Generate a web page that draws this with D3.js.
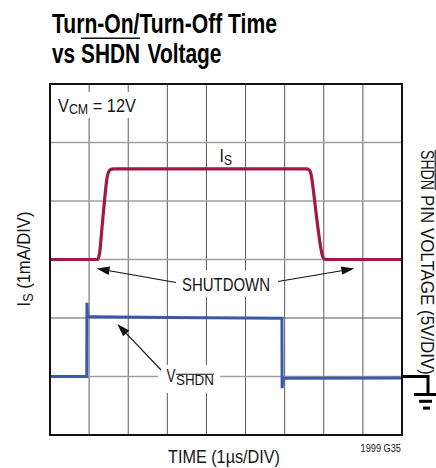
<!DOCTYPE html>
<html>
<head>
<meta charset="utf-8">
<script src="https://cdn.jsdelivr.net/npm/d3@7/dist/d3.min.js"></script>
<style>
body { margin: 0; background: #fff; }
text { font-family: "Liberation Sans Narrow", "Arial Narrow", "Liberation Sans", sans-serif; fill: #161616; }
</style>
</head>
<body>
<svg id="chart" width="436" height="468"></svg>
<script>

// time axis, 1us/div, 9 divisions
var timeDivs = [0, 1, 2, 3, 4, 5, 6, 7, 8, 9];
// Is axis, 1mA/div, 0 on the third line from the top
var isDivs = [-3, -2, -1, 0, 1, 2, 3];

// supply current trace (us, mA)
var isTime  = [0, 1.22, 1.27, 1.33, 1.40, 1.46, 1.50, 1.55, 1.62, 1.75, 6.55, 6.63, 6.68, 6.74, 6.82, 6.90, 6.96, 7.01, 7.08, 9];
var isValue = [0, 0, 0.12, 0.55, 1.05, 1.40, 1.50, 1.54, 1.55, 1.55, 1.55, 1.53, 1.44, 1.15, 0.70, 0.30, 0.08, 0.01, 0, 0];

// SHDN pin voltage trace (us, V), 5V/div
var vTime  = [0, 0.94, 0.945, 0.96, 1.0, 1.1, 3.0, 5.93, 5.935, 5.95, 6.0, 6.2, 9];
var vValue = [0, 0, 6.3, 5.2, 5.1, 5.1, 5.05, 4.97, -1.0, -0.3, -0.15, -0.15, -0.12];

var svg = d3.select("#chart");

var plot = { left: 50, right: 402, top: 84, bottom: 435 };

var x = d3.scaleLinear().domain([0, 9]).range([plot.left, plot.right]);
var yIs = d3.scaleLinear().domain([-3, 3]).range([plot.bottom, plot.top]);
var yV = d3.scaleLinear().domain([-5, 25]).range([plot.bottom, plot.top]);

// grid
svg.append("g")
    .selectAll("line")
    .data(timeDivs.slice(1, -1))
    .enter()
    .append("line")
        .attr("x1", function(d) { return x(d); })
        .attr("x2", function(d) { return x(d); })
        .attr("y1", plot.top)
        .attr("y2", plot.bottom)
        .style("stroke", "#5a5a5a")
        .style("stroke-width", 1);

svg.append("g")
    .selectAll("line")
    .data(isDivs.slice(1, -1))
    .enter()
    .append("line")
        .attr("x1", plot.left)
        .attr("x2", plot.right)
        .attr("y1", function(d) { return yIs(d); })
        .attr("y2", function(d) { return yIs(d); })
        .style("stroke", function(d) { return d == -1 ? "#5a5a5a" : "#a0a0a0"; })
        .style("stroke-width", function(d) { return d == -1 ? 1 : 1.6; });

// white boxes behind the labels
var boxes = [
    [56, 92, 84, 26],
    [213, 145, 25, 20],
    [175, 270, 102, 27],
    [158, 365, 62, 28]
];
svg.append("g")
    .selectAll("rect")
    .data(boxes)
    .enter()
    .append("rect")
        .attr("x", function(d) { return d[0]; })
        .attr("y", function(d) { return d[1]; })
        .attr("width", function(d) { return d[2]; })
        .attr("height", function(d) { return d[3]; })
        .style("fill", "#fff");

// traces
var isLine = d3.line()
    .x(function(d, i) { return x(isTime[i]); })
    .y(function(d) { return yIs(d); })
    .curve(d3.curveMonotoneX);

svg.append("path")
    .attr("d", isLine(isValue))
    .style("fill", "none")
    .style("stroke", "#a3183f")
    .style("stroke-width", 3.2)
    .style("stroke-linejoin", "round");

var vLine = d3.line()
    .x(function(d, i) { return x(vTime[i]); })
    .y(function(d) { return yV(d); });

svg.append("path")
    .attr("d", vLine(vValue))
    .style("fill", "none")
    .style("stroke", "#3d58a9")
    .style("stroke-width", 3);

// ground reference for the SHDN trace
var g0 = yV(0);
var gx = 428;
svg.append("path")
    .attr("d", "M" + plot.right + "," + g0 + "H" + gx + "V" + (g0 + 17))
    .style("fill", "none")
    .style("stroke", "#000")
    .style("stroke-width", 3);
svg.append("g")
    .selectAll("line")
    .data([[414, 440], [419, 432], [423, 430]])
    .enter()
    .append("line")
        .attr("x1", function(d) { return d[0]; })
        .attr("x2", function(d) { return d[1]; })
        .attr("y1", function(d, i) { return g0 + 18 + i * 6.8; })
        .attr("y2", function(d, i) { return g0 + 18 + i * 6.8; })
        .style("stroke", "#000")
        .style("stroke-width", 3);

// frame
svg.append("rect")
    .attr("x", plot.left)
    .attr("y", plot.top)
    .attr("width", plot.right - plot.left)
    .attr("height", plot.bottom - plot.top)
    .style("fill", "none")
    .style("stroke", "#111")
    .style("stroke-width", 2);

// arrows
function arrow(x1, y1, x2, y2) {
    var a = Math.atan2(y2 - y1, x2 - x1);
    var len = 13, w = 4.2;
    var bx = x2 - len * Math.cos(a), by = y2 - len * Math.sin(a);
    svg.append("line")
        .attr("x1", x1).attr("y1", y1)
        .attr("x2", bx).attr("y2", by)
        .style("stroke", "#111")
        .style("stroke-width", 1.1);
    svg.append("path")
        .attr("d", "M" + x2 + "," + y2 +
            "L" + (bx + w * Math.sin(a)) + "," + (by - w * Math.cos(a)) +
            "L" + (bx - w * Math.sin(a)) + "," + (by + w * Math.cos(a)) + "Z")
        .style("fill", "#111");
}
arrow(176, 282.5, x(1.19), yIs(0) + 9);
arrow(278, 281.5, x(7.78), yIs(0) + 9);
arrow(161, 370, x(1.72), yV(5) + 6);

// condensed labels: the narrow face is not installed, so squeeze
// the text horizontally to the width it has in the original
function label(px, py, rot, anchor, size) {
    var g = svg.append("g")
        .attr("transform", "translate(" + px + "," + py + ") rotate(" + rot + ")");
    return g.append("text")
        .attr("text-anchor", anchor)
        .style("font-size", size + "px");
}
function fit(t, width) {
    var w = t.node().getComputedTextLength();
    t.attr("transform", "scale(" + (width / w) + ",1)");
}
function bar(x1, x2, y, sw) {
    svg.append("line")
        .attr("x1", x1).attr("x2", x2)
        .attr("y1", y).attr("y2", y)
        .style("stroke", "#111")
        .style("stroke-width", sw);
}

var vcm = label(58, 112, 0, "start", 18.5);
vcm.append("tspan").text("V");
vcm.append("tspan").attr("dy", 2).style("font-size", "14px").text("CM");
vcm.append("tspan").attr("dy", -2).text(" = 12V");
fit(vcm, 78);

var isLab = label(219.5, 161.5, 0, "start", 18.5);
isLab.append("tspan").text("I");
isLab.append("tspan").attr("dy", 3.5).style("font-size", "14px").text("S");
fit(isLab, 12.5);

var shut = label(226, 291, 0, "middle", 18.5);
shut.text("SHUTDOWN");
fit(shut, 88);

var vsh1 = label(166.5, 381.5, 0, "start", 18.5).text("V");
fit(vsh1, 9);
var vsh2 = label(176, 385, 0, "start", 14).text("SHDN");
fit(vsh2, 38);
bar(176, 214, 374.2, 1.1);

var time = label(224, 463, 0, "middle", 18.5);
time.text("TIME (1\u00b5s/DIV)");
fit(time, 112);

var code = label(401, 451.5, 0, "end", 10);
code.text("1999 G35");
fit(code, 40.5);

var left = label(29.5, 259, -90, "middle", 18.5);
left.append("tspan").text("I");
left.append("tspan").attr("dy", 3.5).style("font-size", "14px").text("S");
left.append("tspan").attr("dy", -3.5).text(" (1mA/DIV)");
fit(left, 95);

var right = label(420.5, 150, 90, "start", 18.5).text("SHDN");
fit(right, 40);
var right2 = label(420.5, 195, 90, "start", 18.5).text("PIN VOLTAGE (5V/DIV)");
fit(right2, 180);
// overline of the rotated SHDN, just left of the image edge
svg.append("line")
    .attr("x1", 435.2).attr("x2", 435.2)
    .attr("y1", 150).attr("y2", 190)
    .style("stroke", "#111")
    .style("stroke-width", 1.1);

// title
var t1 = label(52, 33, 0, "start", 27)
    .style("font-weight", "bold")
    .style("fill", "#000")
    .text("Turn-On/Turn-Off Time");
fit(t1, 225);

var t2a = label(52, 63, 0, "start", 27)
    .style("font-weight", "bold").style("fill", "#000").text("vs");
fit(t2a, 23);
var t2b = label(81, 63, 0, "start", 27)
    .style("font-weight", "bold").style("fill", "#000").text("SHDN");
fit(t2b, 59);
var t2c = label(147.5, 63, 0, "start", 27)
    .style("font-weight", "bold").style("fill", "#000").text("Voltage");
fit(t2c, 74);
bar(81, 140, 38.3, 1.6);

</script>
</body>
</html>
